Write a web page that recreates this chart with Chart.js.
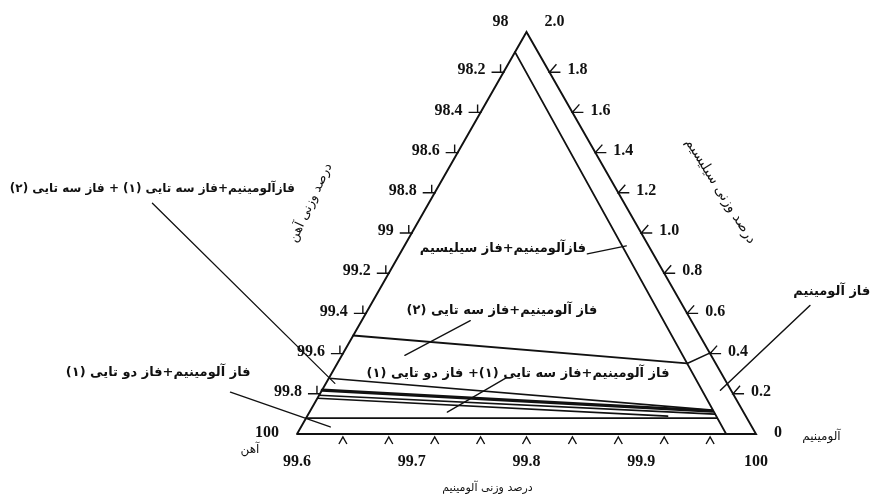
<!DOCTYPE html>
<html>
<head>
<meta charset="utf-8">
<script src="https://cdn.jsdelivr.net/npm/chart.js@4.4.1/dist/chart.umd.min.js"></script>
<style>
  html, body { margin: 0; padding: 0; background: #ffffff; }
  canvas { display: block; }
</style>
</head>
<body>
<canvas id="diagram" width="874" height="502"></canvas>
<script>
// Al-corner of the Al-Fe-Si system. Every point is [Al wt%, Si wt%];
// the Fe scale runs along the left edge (Fe = 100 - height in Si units).

// side scales
const alTickMarks  = [99.64, 99.68, 99.72, 99.76, 99.80, 99.84, 99.88, 99.92, 99.96];
const alLabelVals  = [99.6, 99.7, 99.8, 99.9, 100];
const alLabels     = ['99.6', '99.7', '99.8', '99.9', '100'];
const feTickVals   = [98.2, 98.4, 98.6, 98.8, 99.0, 99.2, 99.4, 99.6, 99.8];
const feLabelVals  = [98, 98.2, 98.4, 98.6, 98.8, 99, 99.2, 99.4, 99.6, 99.8, 100];
const feLabels     = ['98', '98.2', '98.4', '98.6', '98.8', '99', '99.2', '99.4', '99.6', '99.8', '100'];
const siTickVals   = [1.8, 1.6, 1.4, 1.2, 1.0, 0.8, 0.6, 0.4, 0.2];
const siLabelVals  = [2.0, 1.8, 1.6, 1.4, 1.2, 1.0, 0.8, 0.6, 0.4, 0.2, 0];
const siLabels     = ['2.0', '1.8', '1.6', '1.4', '1.2', '1.0', '0.8', '0.6', '0.4', '0.2', '0'];

// outline of the composition triangle
const outline = [[99.6, 0], [100, 0], [99.8, 2.0], [99.6, 0]];

// phase boundaries
const siPhaseBoundary  = [[99.790, 1.90], [99.974, 0]];
const ternary2Boundary = [[99.649, 0.490], [99.940, 0.351]];
const ternary2Tie      = [[99.940, 0.351], [99.961, 0.406]];
const ternary1Upper    = [[99.628, 0.277], [99.962, 0.119]];
const ternary1Band     = [[99.622, 0.218], [99.962, 0.114]];
const binaryUpper      = [[99.619, 0.193], [99.964, 0.099]];
const binaryWedge      = [[99.618, 0.178], [99.923, 0.089]];
const binaryLower      = [[99.608, 0.079], [99.966, 0.079]];

// leader lines from the phase names to their fields
const leaderSi   = [[99.853, 0.896], [99.887, 0.936]];
const leaderT2   = [[99.751, 0.564], [99.694, 0.391]];
const leaderT1B1 = [[99.783, 0.282], [99.731, 0.109]];
const leaderT1T2 = [[99.474, 1.148], [99.633, 0.252]];
const leaderB1   = [[99.542, 0.208], [99.629, 0.035]];
const leaderAl   = [[100.047, 0.639], [99.969, 0.218]];

// phase field names
const phaseNames = {
  t1t2: 'فازآلومینیم+فاز سه تایی (۱) + فاز سه تایی (۲)',
  b1:   'فاز آلومینیم+فاز دو تایی (۱)',
  si:   'فازآلومینیم+فاز سیلیسیم',
  t2:   'فاز آلومینیم+فاز سه تایی (۲)',
  t1b1: 'فاز آلومینیم+فاز سه تایی (۱)+ فاز دو تایی (۱)',
  al:   'فاز آلومینیم'
};
const axisTitles = {
  fe: 'درصد وزنی آهن',
  si: 'درصد وزنی سیلیسیم',
  al: 'درصد وزنی آلومینیم',
  alCorner: 'آلومینیم',
  feCorner: 'آهن'
};

const INK = '#111111';
const PERSIAN = '"DejaVu Sans", "Noto Sans", sans-serif';
const NUMERIC = 'bold 16px "Liberation Serif", "DejaVu Serif", serif';

function lineSet(points, width) {
  return {
    data: points.map(p => ({ x: p[0], y: p[1] })),
    showLine: true,
    borderColor: INK,
    borderWidth: width,
    pointRadius: 0,
    pointHoverRadius: 0,
    fill: false,
    clip: false,
    borderCapStyle: 'round',
    borderJoinStyle: 'miter'
  };
}

const datasets = [
  lineSet(outline, 1.9),
  lineSet(siPhaseBoundary, 1.8),
  lineSet(ternary2Boundary, 1.8),
  lineSet(ternary2Tie, 1.6),
  lineSet(ternary1Upper, 1.6),
  lineSet(ternary1Band, 3.2),
  lineSet(binaryUpper, 1.6),
  lineSet(binaryWedge, 1.6),
  lineSet(binaryLower, 1.7),
  lineSet(leaderSi, 1.3),
  lineSet(leaderT2, 1.3),
  lineSet(leaderT1B1, 1.3),
  lineSet(leaderT1T2, 1.3),
  lineSet(leaderB1, 1.3),
  lineSet(leaderAl, 1.5)
];

// point on an edge of the triangle at a given height (Si units)
const LEFT = [99.6, 0], RIGHT = [100, 0], APEX = [99.8, 2.0];
function onEdge(a, b, h) {
  const t = h / (b[1] - a[1]);
  return [a[0] + (b[0] - a[0]) * t, h];
}

function drawText(ctx, str, x, y, font, align, rtl, angle) {
  ctx.save();
  ctx.translate(x, y);
  if (angle) ctx.rotate(angle);
  ctx.font = font;
  ctx.textAlign = align;
  ctx.textBaseline = 'middle';
  ctx.direction = rtl ? 'rtl' : 'ltr';
  ctx.fillStyle = INK;
  ctx.fillText(str, 0, 0);
  ctx.restore();
}

// vertical nudge of an edge label: the apex and base labels sit apart
function labelLift(h) {
  if (h >= 2) return -10;
  if (h <= 0) return -1;
  return -2;
}

const scaleMarks = {
  id: 'scaleMarks',
  afterDatasetsDraw(chart) {
    const ctx = chart.ctx;
    const xs = chart.scales.x, ys = chart.scales.y;
    const P = (al, si) => [xs.getPixelForValue(al), ys.getPixelForValue(si)];

    ctx.save();
    ctx.strokeStyle = INK;
    ctx.lineWidth = 1.4;
    ctx.lineCap = 'butt';

    // Fe edge ticks
    feTickVals.forEach(fe => {
      const [x, y] = P(...onEdge(LEFT, APEX, 100 - fe));
      ctx.beginPath();
      ctx.moveTo(x - 12, y); ctx.lineTo(x + 1, y);
      ctx.moveTo(x - 3, y); ctx.lineTo(x - 3, y - 8);
      ctx.stroke();
    });
    // Si edge ticks
    siTickVals.forEach(si => {
      const [x, y] = P(...onEdge(RIGHT, APEX, si));
      ctx.beginPath();
      ctx.moveTo(x + 11, y); ctx.lineTo(x, y); ctx.lineTo(x + 7, y - 8);
      ctx.stroke();
    });
    // Al edge ticks
    alTickMarks.forEach(al => {
      const [x, y] = P(al, 0);
      ctx.beginPath();
      ctx.moveTo(x - 4, y + 10); ctx.lineTo(x, y + 3); ctx.lineTo(x + 4, y + 10);
      ctx.stroke();
    });
    ctx.restore();

    // tick labels
    feLabelVals.forEach((fe, i) => {
      const h = 100 - fe;
      const [x, y] = P(...onEdge(LEFT, APEX, h));
      drawText(ctx, feLabels[i], x - 18, y + labelLift(h), NUMERIC, 'right', false);
    });
    siLabelVals.forEach((si, i) => {
      const [x, y] = P(...onEdge(RIGHT, APEX, si));
      drawText(ctx, siLabels[i], x + 18, y + labelLift(si), NUMERIC, 'left', false);
    });
    alLabelVals.forEach((al, i) => {
      const [x, y] = P(al, 0);
      drawText(ctx, alLabels[i], x, y + 28, NUMERIC, 'center', false);
    });

    // phase field names
    const phaseFont = 'bold 13px ' + PERSIAN;
    let q;
    q = P(99.474, 1.218); drawText(ctx, phaseNames.t1t2, q[0], q[1], 'bold 12px ' + PERSIAN, 'center', true);
    q = P(99.479, 0.307); drawText(ctx, phaseNames.b1,   q[0], q[1], phaseFont, 'center', true);
    q = P(99.7795, 0.921); drawText(ctx, phaseNames.si,  q[0], q[1], phaseFont, 'center', true);
    q = P(99.7786, 0.614); drawText(ctx, phaseNames.t2,  q[0], q[1], phaseFont, 'center', true);
    q = P(99.7926, 0.302); drawText(ctx, phaseNames.t1b1, q[0], q[1], phaseFont, 'center', true);
    q = P(100.066, 0.708); drawText(ctx, phaseNames.al,  q[0], q[1], phaseFont, 'center', true);

    // axis titles
    q = P(99.612, 1.150); drawText(ctx, axisTitles.fe, q[0], q[1], '13px ' + PERSIAN, 'center', true, -65 * Math.PI / 180);
    q = P(99.969, 1.208); drawText(ctx, axisTitles.si, q[0], q[1], '14px ' + PERSIAN, 'center', true, 58 * Math.PI / 180);
    q = P(99.766, -0.267); drawText(ctx, axisTitles.al, q[0], q[1], '11px ' + PERSIAN, 'center', true);
    q = P(100.057, -0.015); drawText(ctx, axisTitles.alCorner, q[0], q[1], '12px ' + PERSIAN, 'center', true);
    q = P(99.559, -0.079); drawText(ctx, axisTitles.feCorner, q[0], q[1], '12px ' + PERSIAN, 'center', true);
  }
};

new Chart(document.getElementById('diagram'), {
  type: 'scatter',
  data: { datasets },
  options: {
    responsive: false,
    animation: false,
    devicePixelRatio: 1,
    layout: { padding: { left: 297, right: 118, top: 32, bottom: 68 } },
    scales: {
      x: { type: 'linear', min: 99.6, max: 100, display: false },
      y: { type: 'linear', min: 0, max: 2, display: false }
    },
    plugins: { legend: { display: false }, tooltip: { enabled: false } },
    events: []
  },
  plugins: [scaleMarks]
});
</script>
</body>
</html>
